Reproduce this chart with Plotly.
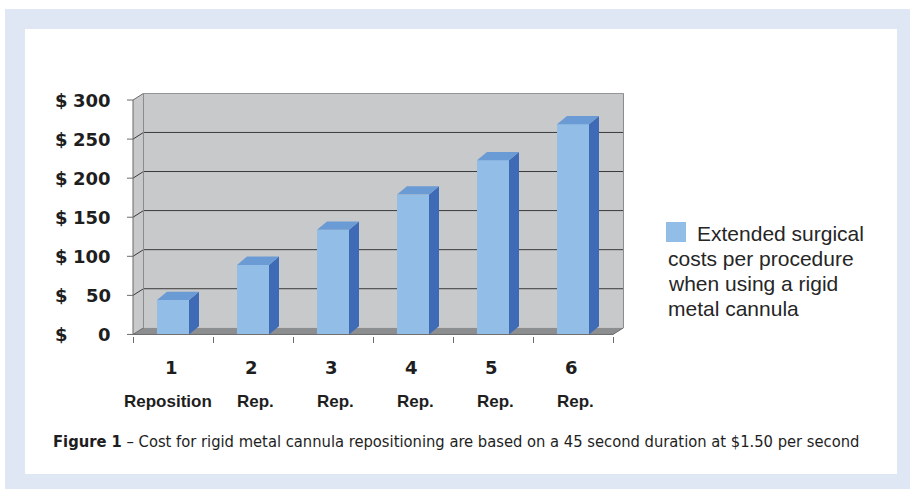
import plotly.graph_objects as go

# ---------------- data ----------------
categories = ["1", "2", "3", "4", "5", "6"]
sublabels = ["Reposition", "Rep.", "Rep.", "Rep.", "Rep.", "Rep."]
costs = [44, 89, 134, 179, 223, 269]
y_ticks = [0, 50, 100, 150, 200, 250, 300]
y_ticktext = ["0", "50", "100", "150", "200", "250", "300"]
legend_lines = ["Extended surgical", "costs per procedure", "when using a rigid", "metal cannula"]
caption_bold = "Figure 1"
caption_text = " \u2013 Cost for rigid metal cannula repositioning are based on a 45 second duration at $1.50 per second"

# ---------------- layout geometry ----------------
W, H = 910, 489
ML, MR, MT, MB = 127, 285, 93, 153
PW = W - ML - MR
PH = H - MT - MB
XR = [-0.575, 5.65]
YR = [-2, 309]


def px_x(px):
    return (px - ML) / PW


def px_y(py):
    return (H - MB - py) / PH


FRONT = "#92bde6"
SIDE = "#3f6ab5"
TOP = "#6a9bd4"
WALL = "#c8c9cb"
FLOOR = "#8d8e90"
GRID = "#3a3a3a"
EDGE = "#8a8a8a"
AXIS = "#6b6b6b"
FRAME = "#dfe7f5"
TEXT = "#1e1e1e"

n = len(categories)
xs = list(range(n))
BW = 0.4
DXB, DYB = 0.125, 10.6
DXW, DYW = 0.131, 8.5
X0, X1 = -0.5, n - 0.5
YMAX = y_ticks[-1]

fig = go.Figure()

# front faces
fig.add_trace(go.Bar(x=xs, y=costs, width=BW, marker=dict(color=FRONT, line=dict(width=0)),
                     showlegend=False, hoverinfo="skip"))

# side faces and top faces derived from values
sx, sy, tx, ty = [], [], [], []
for i, v in zip(xs, costs):
    r = i + BW / 2
    l = i - BW / 2
    sx += [r, r, r + DXB, r + DXB, r, None]
    sy += [0, v, v + DYB, DYB, 0, None]
    tx += [l, r, r + DXB, l + DXB, l, None]
    ty += [v, v, v + DYB, v + DYB, v, None]
fig.add_trace(go.Scatter(x=sx, y=sy, mode="lines", fill="toself", fillcolor=SIDE,
                         line=dict(width=0, color=SIDE), showlegend=False, hoverinfo="skip"))
fig.add_trace(go.Scatter(x=tx, y=ty, mode="lines", fill="toself", fillcolor=TOP,
                         line=dict(width=0, color=TOP), showlegend=False, hoverinfo="skip"))

shapes = []
# outer frame
shapes.append(dict(type="rect", xref="paper", yref="paper", x0=px_x(5), x1=px_x(910),
                   y0=px_y(489), y1=px_y(9), fillcolor=FRAME, line=dict(width=0), layer="below"))
shapes.append(dict(type="rect", xref="paper", yref="paper", x0=px_x(25), x1=px_x(897),
                   y0=px_y(474), y1=px_y(29), fillcolor="white", line=dict(width=0), layer="below"))
# back wall
shapes.append(dict(type="rect", xref="x", yref="y", x0=X0 + DXW, x1=X1 + DXW, y0=DYW, y1=YMAX + DYW,
                   fillcolor=WALL, line=dict(width=0), layer="below"))
# left wall
shapes.append(dict(type="path", xref="x", yref="y",
                   path=f"M {X0} 0 L {X0} {YMAX} L {X0 + DXW} {YMAX + DYW} L {X0 + DXW} {DYW} Z",
                   fillcolor=WALL, line=dict(width=0), layer="below"))
# floor
shapes.append(dict(type="path", xref="x", yref="y",
                   path=f"M {X0} 0 L {X1} 0 L {X1 + DXW} {DYW} L {X0 + DXW} {DYW} Z",
                   fillcolor=FLOOR, line=dict(width=0), layer="below"))
# gridlines on back wall + diagonals on side wall + ticks
for v in y_ticks:
    if 0 < v < YMAX:
        shapes.append(dict(type="line", xref="x", yref="y", x0=X0 + DXW, x1=X1 + DXW, y0=v + DYW, y1=v + DYW,
                           line=dict(color=GRID, width=1), layer="below"))
    shapes.append(dict(type="line", xref="x", yref="y", x0=X0, x1=X0 + DXW, y0=v, y1=v + DYW,
                       line=dict(color=GRID if 0 < v < YMAX else AXIS, width=1), layer="below"))
    shapes.append(dict(type="line", xref="x", yref="y", x0=X0 - 0.075, x1=X0, y0=v, y1=v,
                       line=dict(color=AXIS, width=1), layer="below"))
# wall edges
shapes.append(dict(type="line", xref="x", yref="y", x0=X0 + DXW, x1=X1 + DXW, y0=YMAX + DYW, y1=YMAX + DYW,
                   line=dict(color=EDGE, width=1), layer="below"))
shapes.append(dict(type="line", xref="x", yref="y", x0=X0 + DXW, x1=X0 + DXW, y0=DYW, y1=YMAX + DYW,
                   line=dict(color=EDGE, width=1), layer="below"))
shapes.append(dict(type="line", xref="x", yref="y", x0=X1 + DXW, x1=X1 + DXW, y0=DYW, y1=YMAX + DYW,
                   line=dict(color=EDGE, width=1), layer="below"))
# front axes
shapes.append(dict(type="line", xref="x", yref="y", x0=X0, x1=X0, y0=0, y1=YMAX,
                   line=dict(color=AXIS, width=1), layer="below"))
shapes.append(dict(type="line", xref="x", yref="y", x0=X0, x1=X1, y0=0, y1=0,
                   line=dict(color=AXIS, width=1), layer="below"))
shapes.append(dict(type="line", xref="x", yref="y", x0=X1, x1=X1 + DXW, y0=0, y1=DYW,
                   line=dict(color=AXIS, width=1), layer="below"))
# legend swatch
shapes.append(dict(type="rect", xref="paper", yref="paper", x0=px_x(666), x1=px_x(686),
                   y0=px_y(242), y1=px_y(222), fillcolor=FRONT, line=dict(width=0)))

annotations = []
num_font = dict(family="DejaVu Sans", size=18, color=TEXT, weight="bold")
for v, t in zip(y_ticks, y_ticktext):
    annotations.append(dict(text="$", xref="paper", yref="y", x=px_x(53), y=v, xanchor="left",
                            yanchor="middle", showarrow=False, font=num_font))
    annotations.append(dict(text=t, xref="paper", yref="y", x=px_x(113), y=v, xanchor="right",
                            yanchor="middle", showarrow=False, font=num_font))
for i, c, s in zip(xs, categories, sublabels):
    annotations.append(dict(text=c, xref="x", yref="paper", x=i, y=px_y(367), xanchor="center",
                            yanchor="middle", showarrow=False, xshift=-2, font=num_font))
    annotations.append(dict(text=s, xref="x", yref="paper", x=i, y=px_y(402), xanchor="center",
                            yanchor="middle", showarrow=False, xshift=2 if i else -5,
                            font=dict(family="Liberation Sans, Arial", size=17, color=TEXT, weight="bold")))
leg_font = dict(family="Liberation Sans, Arial", size=21, color="#262626")
for k, line in enumerate(legend_lines):
    annotations.append(dict(text=line, xref="paper", yref="paper", x=px_x(695 if k == 0 else 666),
                            y=px_y(233 + 25.3 * k), xanchor="left", yanchor="middle",
                            showarrow=False, font=leg_font))
annotations.append(dict(text=f"<b>{caption_bold}</b>{caption_text}", xref="paper", yref="paper",
                        x=px_x(51), y=px_y(441), xanchor="left", yanchor="middle", showarrow=False,
                        font=dict(family="DejaVu Sans Condensed, DejaVu Sans", size=16.4, color=TEXT)))

fig.update_layout(
    width=W, height=H, autosize=False,
    margin=dict(l=ML, r=MR, t=MT, b=MB, pad=0),
    paper_bgcolor="white", plot_bgcolor="rgba(0,0,0,0)",
    showlegend=False,
    xaxis=dict(range=XR, showgrid=False, zeroline=False, showline=False,
               tickmode="array", tickvals=[X0 + k for k in range(n + 1)], ticktext=[""] * (n + 1),
               ticks="outside", ticklen=6, tickcolor=AXIS, tickwidth=1, showticklabels=False, fixedrange=True),
    yaxis=dict(range=YR, showgrid=False, zeroline=False, showline=False, showticklabels=False,
               ticks="", fixedrange=True),
    shapes=shapes,
    annotations=annotations,
    bargap=0,
)

fig.write_html("out.html")
